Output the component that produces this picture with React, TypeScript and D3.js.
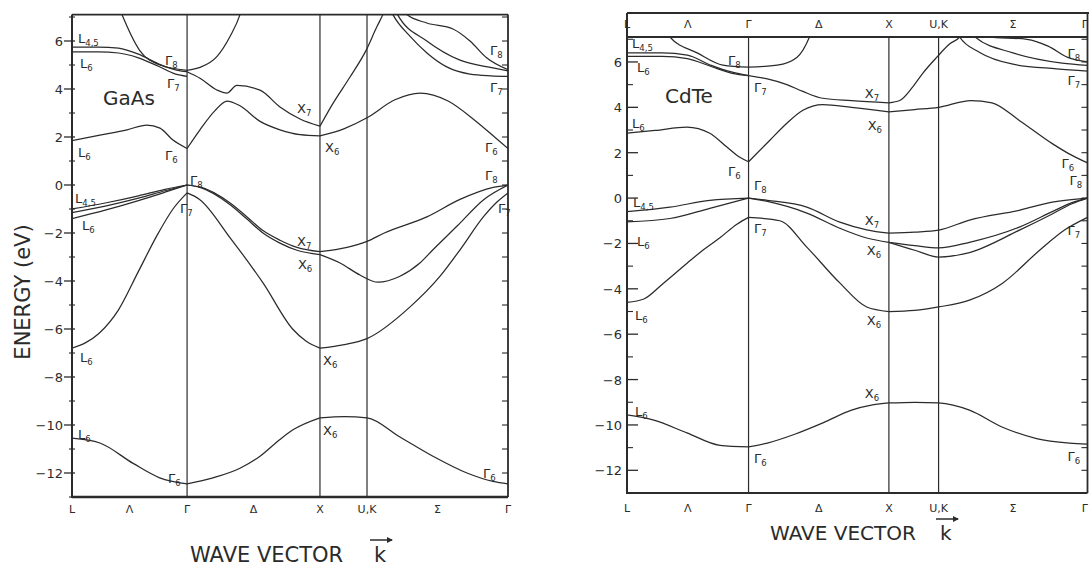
import React from 'react';
import * as d3 from 'd3';

type Pt = [number, number];

// Positions of the symmetry points along the L–Γ–X–U,K–Γ path (units of 2π/a)
const kSym = { L: 0, G: 0.866, X: 1.866, UK: 2.22, G2: 3.281 };
const kAxisLabels: { k: number; t: string }[] = [
  { k: 0, t: 'L' },
  { k: 0.433, t: 'Λ' },
  { k: 0.866, t: 'Γ' },
  { k: 1.366, t: 'Δ' },
  { k: 1.866, t: 'X' },
  { k: 2.22, t: 'U,K' },
  { k: 2.75, t: 'Σ' },
  { k: 3.281, t: 'Γ' },
];
const majorTicks = [-12, -10, -8, -6, -4, -2, 0, 2, 4, 6];
const minorTicks = [-13, -11, -9, -7, -5, -3, -1, 1, 3, 5, 7];

// ---------- GaAs bands ----------
const gaasLambda: Pt[][] = [
  [[0, -10.55], [0.21, -10.75], [0.46, -11.6], [0.66, -12.2], [0.866, -12.45]],
  [[0, -6.8], [0.2, -6.2], [0.35, -5.2], [0.5, -3.6], [0.64, -2.1], [0.76, -1.0], [0.866, -0.33]],
  [[0, -1.0], [0.25, -0.75], [0.5, -0.45], [0.7, -0.18], [0.866, 0]],
  [[0, -1.15], [0.25, -0.88], [0.5, -0.55], [0.7, -0.24], [0.866, 0]],
  [[0, -1.4], [0.25, -1.05], [0.5, -0.65], [0.7, -0.3], [0.866, 0]],
  [[0, 1.85], [0.21, 2.08], [0.414, 2.3], [0.564, 2.5], [0.662, 2.37], [0.76, 1.87], [0.866, 1.52]],
  [[0, 5.75], [0.2, 5.75], [0.35, 5.7], [0.5, 5.45], [0.65, 5.05], [0.78, 4.8], [0.866, 4.72]],
  [[0, 5.55], [0.2, 5.55], [0.35, 5.5], [0.5, 5.3], [0.65, 4.95], [0.78, 4.62], [0.866, 4.53]],
  [[0.34, 7.6], [0.376, 7.1], [0.51, 5.6], [0.662, 5.0], [0.866, 4.78]],
];
const gaasDelta: Pt[][] = [
  [[0.866, -12.45], [1.061, -12.2], [1.264, -11.8], [1.415, -11.3], [1.565, -10.6], [1.663, -10.2], [1.866, -9.7]],
  [[0.866, -0.33], [0.96, -0.6], [1.19, -2.2], [1.44, -4.1], [1.66, -6.0], [1.76, -6.5], [1.866, -6.8]],
  [[0.866, 0], [0.963, -0.08], [1.19, -0.75], [1.317, -1.33], [1.437, -1.9], [1.565, -2.3], [1.693, -2.6], [1.866, -2.78]],
  [[0.866, 0], [0.963, -0.1], [1.19, -0.82], [1.317, -1.42], [1.437, -2.0], [1.565, -2.42], [1.693, -2.72], [1.866, -2.9]],
  [[0.866, 1.52], [0.963, 2.3], [1.076, 3.1], [1.166, 3.5], [1.264, 3.3], [1.415, 2.65], [1.565, 2.3], [1.716, 2.1], [1.866, 2.05]],
  [[0.866, 4.72], [0.963, 4.45], [1.09, 3.96], [1.166, 3.83], [1.24, 4.15], [1.415, 3.95], [1.565, 3.25], [1.716, 2.75], [1.866, 2.45]],
  [[0.866, 4.78], [0.963, 4.9], [1.09, 5.35], [1.19, 6.2], [1.264, 7.1], [1.29, 7.6]],
];
const gaasSigma: Pt[][] = [
  [[1.866, -9.7], [2.05, -9.65], [2.22, -9.7], [2.468, -10.5], [2.716, -11.3], [2.972, -12.0], [3.168, -12.35], [3.281, -12.45]],
  [[1.866, -6.8], [2.05, -6.65], [2.22, -6.4], [2.54, -5.1], [2.77, -3.8], [2.92, -2.7], [3.1, -1.3], [3.2, -0.7], [3.281, -0.33]],
  [[1.866, -2.9], [2.017, -3.25], [2.167, -3.75], [2.302, -4.05], [2.468, -3.8], [2.618, -3.25], [2.716, -2.7], [2.9, -1.7], [3.1, -0.6], [3.281, 0]],
  [[1.866, -2.78], [2.07, -2.6], [2.22, -2.35], [2.35, -2.0], [2.67, -1.33], [2.92, -0.6], [3.17, -0.1], [3.281, 0]],
  [[1.866, 2.05], [2.05, 2.35], [2.22, 2.8], [2.43, 3.55], [2.62, 3.83], [2.83, 3.5], [3.03, 2.7], [3.18, 2.0], [3.281, 1.52]],
  [[1.866, 2.45], [1.964, 3.4], [2.092, 4.5], [2.212, 5.6], [2.295, 6.6], [2.34, 7.1], [2.38, 7.6]],
  [[2.38, 7.5], [2.415, 7.1], [2.543, 6.2], [2.671, 5.5], [2.82, 4.92], [2.995, 4.62], [3.15, 4.55], [3.281, 4.53]],
  [[2.42, 7.5], [2.45, 7.1], [2.67, 6.0], [2.92, 5.2], [3.168, 4.88], [3.281, 4.75]],
  [[2.49, 7.5], [2.52, 7.1], [2.67, 6.75], [2.867, 6.5], [2.995, 6.0], [3.12, 5.3], [3.281, 4.8]],
];

// ---------- CdTe bands ----------
const cdteLambda: Pt[][] = [
  [[0, -9.56], [0.185, -9.78], [0.427, -10.35], [0.662, -10.9], [0.866, -10.97]],
  [[0, -4.6], [0.12, -4.45], [0.26, -3.75], [0.43, -2.86], [0.54, -2.3], [0.662, -1.75], [0.783, -1.15], [0.866, -0.85]],
  [[0, -0.6], [0.306, -0.4], [0.59, -0.1], [0.866, 0]],
  [[0, -1.05], [0.306, -0.9], [0.59, -0.45], [0.866, 0]],
  [[0, 2.86], [0.2, 2.98], [0.427, 3.13], [0.59, 2.86], [0.712, 2.25], [0.804, 1.8], [0.866, 1.6]],
  [[0, 6.4], [0.25, 6.4], [0.43, 6.3], [0.6, 5.85], [0.75, 5.55], [0.866, 5.4]],
  [[0, 6.25], [0.25, 6.25], [0.43, 6.15], [0.6, 5.8], [0.75, 5.5], [0.866, 5.4]],
  [[0.27, 7.6], [0.306, 7.1], [0.5, 6.4], [0.683, 5.86], [0.866, 5.77]],
];
const cdteDelta: Pt[][] = [
  [[0.866, -10.97], [1.0, -10.8], [1.2, -10.4], [1.4, -9.9], [1.6, -9.35], [1.75, -9.12], [1.866, -9.03]],
  [[0.866, -0.85], [1.089, -1.0], [1.281, -2.16], [1.516, -3.74], [1.708, -4.8], [1.866, -5.0]],
  [[0.866, 0], [1.0, -0.1], [1.281, -0.4], [1.516, -1.06], [1.708, -1.4], [1.866, -1.55]],
  [[0.866, 0], [1.0, -0.15], [1.281, -0.66], [1.516, -1.33], [1.708, -1.76], [1.866, -1.95]],
  [[0.866, 1.6], [1.018, 2.55], [1.139, 3.3], [1.253, 3.87], [1.395, 4.12], [1.6, 4.0], [1.866, 3.8]],
  [[0.866, 5.4], [1.0, 5.25], [1.139, 5.0], [1.253, 4.7], [1.395, 4.4], [1.6, 4.3], [1.866, 4.2]],
  [[0.866, 5.77], [1.07, 5.86], [1.21, 6.2], [1.3, 7.1], [1.33, 7.6]],
];
const cdteSigma: Pt[][] = [
  [[1.866, -9.03], [2.05, -9.0], [2.22, -9.03], [2.44, -9.35], [2.676, -10.1], [2.918, -10.6], [3.153, -10.8], [3.281, -10.85]],
  [[1.866, -5.0], [2.05, -4.95], [2.22, -4.8], [2.44, -4.5], [2.676, -3.75], [2.94, -2.3], [3.12, -1.4], [3.281, -0.85]],
  [[1.866, -1.55], [2.05, -1.5], [2.22, -1.41], [2.44, -0.97], [2.8, -0.53], [3.03, -0.18], [3.281, 0]],
  [[1.866, -1.95], [2.05, -2.1], [2.22, -2.2], [2.44, -1.95], [2.8, -1.27], [3.03, -0.6], [3.17, -0.2], [3.281, 0]],
  [[1.866, -1.95], [2.05, -2.3], [2.22, -2.6], [2.44, -2.4], [2.8, -1.4], [3.03, -0.7], [3.17, -0.25], [3.281, 0]],
  [[1.866, 3.8], [2.05, 3.9], [2.22, 4.0], [2.45, 4.3], [2.6, 4.2], [2.8, 3.4], [3.03, 2.4], [3.15, 1.95], [3.281, 1.55]],
  [[1.866, 4.2], [1.943, 4.3], [2.036, 4.9], [2.107, 5.5], [2.206, 6.2], [2.3, 6.8], [2.37, 7.1], [2.42, 7.6]],
  [[2.33, 7.6], [2.37, 7.1], [2.51, 6.43], [2.75, 5.9], [3.06, 5.7], [3.281, 5.6]],
  [[2.44, 7.5], [2.48, 7.1], [2.75, 6.4], [3.1, 5.95], [3.281, 5.85]],
  [[2.53, 7.5], [2.57, 7.1], [2.85, 7.0], [3.0, 6.7], [3.14, 6.2], [3.281, 6.0]],
];

// Symmetry labels: [k, E, symbol, subscript]
type Lab = [number, number, string, string];
const gaasLabels: Lab[] = [
  [0.045, 5.92, 'L', '4,5'], [0.06, 4.88, 'L', '6'], [0.7, 5.0, 'Γ', '8'], [0.715, 4.04, 'Γ', '7'],
  [0.045, 1.17, 'L', '6'], [0.7, 1.04, 'Γ', '6'], [0.888, 0.0, 'Γ', '8'], [0.813, -1.17, 'Γ', '7'],
  [0.023, -0.75, 'L', '4,5'], [0.075, -1.87, 'L', '6'], [0.06, -7.37, 'L', '6'], [0.045, -10.6, 'L', '6'],
  [0.722, -12.4, 'Γ', '6'], [1.693, 3.0, 'X', '7'], [1.904, 1.37, 'X', '6'], [1.693, -2.54, 'X', '7'],
  [1.7, -3.5, 'X', '6'], [1.889, -7.5, 'X', '6'], [1.889, -10.4, 'X', '6'], [3.145, 5.42, 'Γ', '8'],
  [3.145, 3.87, 'Γ', '7'], [3.108, 1.37, 'Γ', '6'], [3.108, 0.2, 'Γ', '8'], [3.205, -1.17, 'Γ', '7'],
  [3.093, -12.2, 'Γ', '6'],
];
const cdteLabels: Lab[] = [
  [0.036, 6.6, 'L', '4,5'], [0.071, 5.55, 'L', '6'], [0.719, 5.86, 'Γ', '8'], [0.904, 4.67, 'Γ', '7'],
  [0.036, 3.08, 'L', '6'], [0.719, 0.97, 'Γ', '6'], [0.904, 0.35, 'Γ', '8'], [0.043, -0.4, 'L', '4,5'],
  [0.904, -1.54, 'Γ', '7'], [0.071, -2.1, 'L', '6'], [0.057, -5.37, 'L', '6'], [0.057, -9.6, 'L', '6'],
  [0.904, -11.67, 'Γ', '6'], [1.694, 4.4, 'X', '7'], [1.715, 3.0, 'X', '6'], [3.139, 6.17, 'Γ', '8'],
  [3.139, 4.98, 'Γ', '7'], [3.096, 1.32, 'Γ', '6'], [3.153, 0.57, 'Γ', '8'], [1.694, -1.19, 'X', '7'],
  [1.708, -2.5, 'X', '6'], [3.139, -1.63, 'Γ', '7'], [1.708, -5.6, 'X', '6'], [1.694, -8.8, 'X', '6'],
  [3.139, -11.6, 'Γ', '6'],
];

const INK = '#2b2b2b';
const FONT = '"DejaVu Sans", "Liberation Sans", sans-serif';
const SVG_W = 1089;

interface PanelProps {
  id: string;
  left: number;
  right: number;
  top: number;
  bottom: number;
  bands: Pt[][];
  labels: Lab[];
  name: string;
  nameX: number;
  nameY: number;
  style: 'gaas' | 'cdte';
}

function Panel(p: PanelProps) {
  const x = d3.scaleLinear().domain([kSym.L, kSym.G2]).range([p.left, p.right]);
  const y = d3.scaleLinear().domain([-13, 7.1]).range([p.bottom, p.top]);
  const line = d3
    .line<Pt>()
    .x((d) => x(d[0]))
    .y((d) => y(d[1]))
    .curve(d3.curveMonotoneX);
  const verticals = [kSym.G, kSym.X, kSym.UK];
  const isG = p.style === 'gaas';
  const allTicks = d3.range(-13, 8);

  // keep the k-point name at the far edge inside the drawing
  const kNameProps = (k: number) => {
    const px = x(k);
    if (px + 6 > SVG_W) return { x: SVG_W - 1, anchor: 'end' as const };
    return { x: px, anchor: 'middle' as const };
  };

  return (
    <g>
      <defs>
        <clipPath id={`clip-${p.id}`}>
          <rect x={p.left} y={p.top} width={p.right - p.left} height={p.bottom - p.top} />
        </clipPath>
      </defs>
      {/* bands */}
      <g clipPath={`url(#clip-${p.id})`} fill="none" stroke={INK} strokeWidth={1.25}>
        {p.bands.map((b, i) => (
          <path key={i} d={line(b) || ''} />
        ))}
      </g>
      {/* symmetry-point verticals */}
      {verticals.map((k, i) => (
        <line key={i} x1={x(k)} x2={x(k)} y1={p.top} y2={p.bottom} stroke={INK} strokeWidth={1.2} />
      ))}
      {/* frame */}
      <line x1={p.left} x2={p.left} y1={isG ? p.top : 13} y2={p.bottom + 1} stroke={INK} strokeWidth={2} />
      <line x1={p.left} x2={p.right} y1={p.bottom} y2={p.bottom} stroke={INK} strokeWidth={isG ? 2.4 : 2} />
      <line x1={p.left} x2={p.right} y1={p.top} y2={p.top} stroke={INK} strokeWidth={1.8} />
      <line x1={p.right} x2={p.right} y1={isG ? p.top : 13} y2={p.bottom} stroke={INK} strokeWidth={1.8} />
      {!isG && <line x1={p.left} x2={p.right + 2} y1={13} y2={13} stroke={INK} strokeWidth={1.8} />}
      {/* energy ticks */}
      {majorTicks.map((e) => (
        <g key={`M${e}`}>
          <line
            x1={isG ? p.left - 8 : p.left}
            x2={isG ? p.left + 3 : p.left + 11}
            y1={y(e)}
            y2={y(e)}
            stroke={INK}
            strokeWidth={1.3}
          />
          <text
            x={isG ? p.left - 9 : p.left - 5}
            y={y(e) + 5}
            textAnchor="end"
            fontSize={13}
            fontFamily={FONT}
            fill={INK}
          >
            {e < 0 ? `−${-e}` : `${e}`}
          </text>
        </g>
      ))}
      {minorTicks
        .filter((e) => y(e) >= p.top && y(e) <= p.bottom)
        .map((e) => (
          <line
            key={`m${e}`}
            x1={isG ? p.left - 3 : p.left}
            x2={isG ? p.left + 3 : p.left + 6}
            y1={y(e)}
            y2={y(e)}
            stroke={INK}
            strokeWidth={1.1}
          />
        ))}
      {allTicks
        .filter((e) => y(e) > p.top + 2 && y(e) < p.bottom - 2)
        .map((e) => (
          <line key={`r${e}`} x1={p.right - 6} x2={p.right} y1={y(e)} y2={y(e)} stroke={INK} strokeWidth={1.1} />
        ))}
      {/* k-point names */}
      {kAxisLabels.map((l, i) => {
        const kp = kNameProps(l.k);
        return (
          <text
            key={`b${i}`}
            x={kp.x}
            y={isG ? 513 : 512}
            textAnchor={kp.anchor}
            fontSize={11}
            fontFamily={FONT}
            fill={INK}
          >
            {l.t}
          </text>
        );
      })}
      {!isG &&
        kAxisLabels.map((l, i) => {
          const kp = kNameProps(l.k);
          return (
            <text key={`t${i}`} x={kp.x} y={28} textAnchor={kp.anchor} fontSize={11} fontFamily={FONT} fill={INK}>
              {l.t}
            </text>
          );
        })}
      {/* state labels */}
      {p.labels.map((l, i) => (
        <text key={`l${i}`} x={x(l[0])} y={y(l[1])} fontSize={13} fontFamily={FONT} fill={INK}>
          {l[2]}
          <tspan fontSize={8.5} dy={3}>
            {l[3]}
          </tspan>
        </text>
      ))}
      <text x={p.nameX} y={p.nameY} fontSize={20} fontFamily={FONT} fill={INK}>
        {p.name}
      </text>
    </g>
  );
}

function KArrow({ x, y, fs }: { x: number; y: number; fs: number }) {
  return (
    <g>
      <text x={x} y={y} fontSize={fs} fontFamily={FONT} fill={INK}>
        k
      </text>
      <line x1={x - 4} x2={x + 18} y1={y - fs - 1} y2={y - fs - 1} stroke={INK} strokeWidth={1.5} />
      <path d={`M${x + 19},${y - fs - 1} l-6,-3 l0,6 z`} fill={INK} />
    </g>
  );
}

export default function App() {
  return (
    <svg
      width={SVG_W}
      height={568}
      viewBox={`0 0 ${SVG_W} 568`}
      style={{ position: 'absolute', left: 0, top: 0, background: '#fff' }}
    >
      <rect width={SVG_W} height={568} fill="#fff" />
      <Panel
        id="gaas"
        left={72}
        right={508}
        top={14.6}
        bottom={497}
        bands={[...gaasLambda, ...gaasDelta, ...gaasSigma]}
        labels={gaasLabels}
        name="GaAs"
        nameX={103}
        nameY={105}
        style="gaas"
      />
      <Panel
        id="cdte"
        left={627}
        right={1087.5}
        top={37}
        bottom={493}
        bands={[...cdteLambda, ...cdteDelta, ...cdteSigma]}
        labels={cdteLabels}
        name="CdTe"
        nameX={665}
        nameY={103}
        style="cdte"
      />
      <text
        transform="translate(30,292) rotate(-90)"
        textAnchor="middle"
        fontSize={21}
        fontFamily={FONT}
        fill={INK}
      >
        ENERGY (eV)
      </text>
      <text x={190} y={562} fontSize={21} fontFamily={FONT} fill={INK}>
        WAVE VECTOR
      </text>
      <KArrow x={374} y={562} fs={21} />
      <text x={770} y={540} fontSize={20} fontFamily={FONT} fill={INK}>
        WAVE VECTOR
      </text>
      <KArrow x={940} y={540} fs={20} />
    </svg>
  );
}
